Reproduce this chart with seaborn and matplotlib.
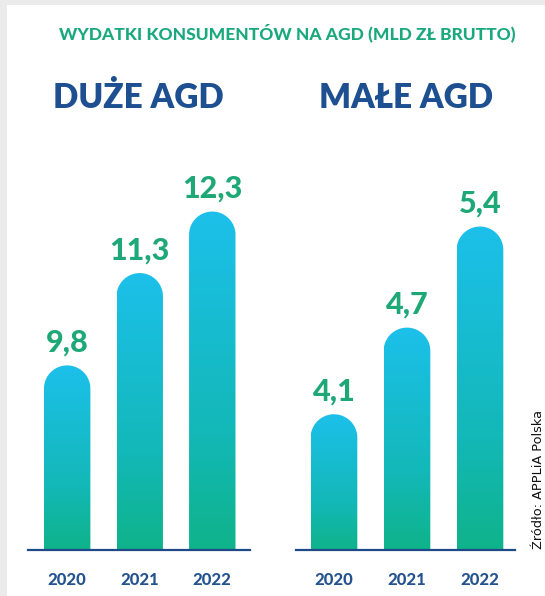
import numpy as np
import matplotlib
matplotlib.use("Agg")
import matplotlib.pyplot as plt
import seaborn as sns
from matplotlib.path import Path
from matplotlib.patches import PathPatch, Rectangle
from matplotlib.colors import LinearSegmentedColormap

# Data
years = ["2020", "2021", "2022"]
duze_agd = [9.8, 11.3, 12.3]
male_agd = [4.1, 4.7, 5.4]
title = "WYDATKI KONSUMENTÓW NA AGD (MLD ZŁ BRUTTO)"
panel_titles = ["DUŻE AGD", "MAŁE AGD"]
source = "Źródło: APPLiA Polska"

sns.set_style("white")
plt.rcParams["font.family"] = ["Lato", "DejaVu Sans"]

NAVY = "#1d4f91"
GREEN = "#1ea878"
bar_cmap = LinearSegmentedColormap.from_list(
    "bar", [(0.0, "#0fb38a"), (0.35, "#13b8b8"), (1.0, "#1cc0ea")])

W, H = 545, 596
fig = plt.figure(figsize=(W / 100, H / 100), dpi=100, facecolor="#ebebeb")
fig.patches.append(Rectangle((7 / W, 0), 1 - 7 / W, 1 - 5 / H, transform=fig.transFigure,
                             facecolor="white", edgecolor="none", zorder=-5))


def px_axes(left, right, top, bottom):
    ax = fig.add_axes([left / W, 1 - bottom / H, (right - left) / W, (bottom - top) / H])
    ax.set_facecolor("none")
    return ax


def draw_panel(ax, values, ylim, xlim):
    sns.barplot(x=years, y=values, ax=ax, width=0.64, color="#14b7bf")
    ax.set_xlim(*xlim)
    ax.set_ylim(*ylim)
    pos = ax.get_position()
    ax_w_px, ax_h_px = pos.width * W, pos.height * H
    for bar in list(ax.patches):
        x0, w, top = bar.get_x(), bar.get_width(), bar.get_height()
        bottom = ylim[0]
        bar.set_visible(False)
        rx = w / 2
        r_px = rx * ax_w_px / (xlim[1] - xlim[0])
        ry = r_px * (ylim[1] - ylim[0]) / ax_h_px
        t = np.linspace(np.pi, 0, 40)
        arc = np.column_stack([x0 + rx + rx * np.cos(t), top - ry + ry * np.sin(t)])
        verts = np.vstack([[x0, bottom], [x0, top - ry], arc, [x0 + w, bottom], [x0, bottom]])
        codes = [Path.MOVETO] + [Path.LINETO] * (len(verts) - 2) + [Path.CLOSEPOLY]
        clip = PathPatch(Path(verts, codes), transform=ax.transData, facecolor="none", edgecolor="none")
        grad = np.linspace(0, 1, 256).reshape(-1, 1)
        im = ax.imshow(grad, extent=[x0, x0 + w, bottom, top], origin="lower",
                       aspect="auto", cmap=bar_cmap, zorder=2)
        im.set_clip_path(clip)
        label = f"{top:.1f}".replace(".", ",")
        ax.annotate(label, (x0 + rx, top), xytext=(0, 10), textcoords="offset points",
                    ha="center", va="baseline", fontsize=22, fontweight="black",
                    color=GREEN, annotation_clip=False)
    ax.set_xlim(*xlim)
    ax.set_ylim(*ylim)
    sns.despine(ax=ax, left=True)
    ax.spines["bottom"].set_color("#1e4a87")
    ax.spines["bottom"].set_linewidth(1.6)
    ax.set_yticks([])
    ax.set_ylabel("")
    ax.set_xlabel("")
    ax.tick_params(axis="x", length=0, pad=16, labelsize=12, labelcolor="#24538f")
    for lab in ax.get_xticklabels():
        lab.set_fontweight("black")


ax1 = px_axes(28, 250, 150, 550)
draw_panel(ax1, duze_agd, (6.80, 13.30), (-0.54, 2.52))
ax2 = px_axes(296, 515, 150, 550)
draw_panel(ax2, male_agd, (3.16, 5.93), (-0.52, 2.48))

fig.text(287 / W, 1 - 33 / H, title, ha="center", va="center", fontsize=12.5,
         fontweight="black", color="#1aa97c")
fig.text(138 / W, 1 - 98 / H, panel_titles[0], ha="center", va="center", fontsize=24,
         fontweight="heavy", color=NAVY)
fig.text(406 / W, 1 - 98 / H, panel_titles[1], ha="center", va="center", fontsize=24,
         fontweight="heavy", color=NAVY)
fig.text(538 / W, 1 - 549 / H, source, rotation=90, ha="center", va="bottom", fontsize=9.3,
         family=["Liberation Sans Narrow", "DejaVu Sans"], color="#111111")

fig.savefig("out.png", dpi=100, facecolor=fig.get_facecolor())
